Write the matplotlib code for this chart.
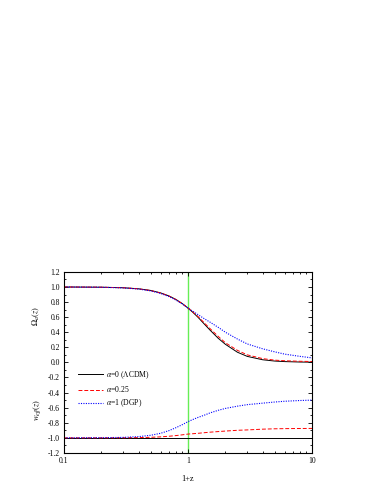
import numpy as np
import matplotlib
matplotlib.use("Agg")
import matplotlib.pyplot as plt
from matplotlib.ticker import MultipleLocator, FixedLocator, NullFormatter

plt.rcParams['font.family'] = ['Liberation Serif', 'DejaVu Serif']
plt.rcParams['mathtext.fontset'] = 'stix'
plt.rcParams['axes.unicode_minus'] = False

## Data
opz = [0.1, 0.2, 0.3, 0.4, 0.5, 0.6, 0.7, 0.8, 0.9, 1.0, 1.1, 1.2, 1.35, 1.5, 1.75, 2.0, 2.5, 3.0, 4.0, 5.0, 6.0, 8.0, 10.0]

omega_lcdm = [1.0, 0.997, 0.99, 0.976, 0.954, 0.922, 0.882, 0.834, 0.779, 0.72, 0.66, 0.60, 0.51, 0.43, 0.32, 0.24, 0.135, 0.08, 0.035, 0.018, 0.011, 0.005, 0.003]
omega_025 = [1.0, 0.997, 0.99, 0.975, 0.953, 0.92, 0.88, 0.832, 0.778, 0.72, 0.665, 0.61, 0.525, 0.45, 0.345, 0.26, 0.16, 0.10, 0.05, 0.03, 0.022, 0.015, 0.012]
omega_dgp = [1.0, 0.996, 0.988, 0.972, 0.948, 0.915, 0.874, 0.826, 0.774, 0.72, 0.675, 0.635, 0.58, 0.535, 0.465, 0.40, 0.31, 0.245, 0.18, 0.14, 0.11, 0.08, 0.06]

w_lcdm = [-1.0] * len(opz)
w_025 = [-1.0, -1.0, -0.999, -0.997, -0.993, -0.987, -0.979, -0.97, -0.96, -0.95, -0.945, -0.94, -0.932, -0.925, -0.917, -0.91, -0.90, -0.895, -0.885, -0.88, -0.878, -0.876, -0.875]
w_dgp = [-1.0, -0.998, -0.994, -0.984, -0.966, -0.94, -0.905, -0.865, -0.825, -0.785, -0.755, -0.73, -0.70, -0.67, -0.635, -0.61, -0.58, -0.56, -0.54, -0.525, -0.515, -0.505, -0.50]

labels = [r'$\alpha$=0 ($\Lambda$CDM)', r'$\alpha$=0.25', r'$\alpha$=1 (DGP)']

fig = plt.figure(figsize=(3.83, 4.95), dpi=100)
ax = fig.add_axes([0.167, 0.085, 0.648, 0.3657])

ax.axvline(1.0, color='#66ee55', lw=1.0, zorder=1)

# Omega_a(z)
ax.plot(opz, omega_lcdm, color='black', lw=0.7, ls='-', label=labels[0])
ax.plot(opz, omega_025, color='red', lw=0.7, ls=(0, (4, 2)), label=labels[1])
ax.plot(opz, omega_dgp, color='blue', lw=0.8, ls=(0, (1, 1.2)), label=labels[2])
# w_eff(z)
ax.plot(opz, w_lcdm, color='black', lw=0.7, ls='-')
ax.plot(opz, w_025, color='red', lw=0.7, ls=(0, (4, 2)))
ax.plot(opz, w_dgp, color='blue', lw=0.8, ls=(0, (1, 1.2)))

ax.set_xscale('log')
ax.set_xlim(0.1, 10)
ax.set_ylim(-1.2, 1.2)
ax.xaxis.set_major_locator(FixedLocator([0.1, 1, 10]))
ax.set_xticklabels(['0.1', '1', '10'])
ax.xaxis.set_minor_formatter(NullFormatter())
ax.yaxis.set_major_locator(MultipleLocator(0.2))
ax.yaxis.set_minor_locator(MultipleLocator(0.1))
ax.yaxis.set_major_formatter(matplotlib.ticker.FormatStrFormatter('%.1f'))

ax.tick_params(which='both', direction='in', top=True, right=True, labelsize=5.5, width=0.6, pad=3)
ax.tick_params(which='major', length=3)
ax.tick_params(which='minor', length=1.6)
for s in ax.spines.values():
    s.set_linewidth(0.8)

ax.set_xlabel('1+z', fontsize=6, labelpad=7)
trans = matplotlib.transforms.blended_transform_factory(ax.transAxes, ax.transData)
ax.text(-0.11, 0.62, r'$\Omega_a(z)$', transform=trans, rotation=90, fontsize=6, ha='center', va='center')
ax.text(-0.11, -0.63, r'$w_{eff}(z)$', transform=trans, rotation=90, fontsize=6, ha='center', va='center')

ax.legend(loc='upper left', bbox_to_anchor=(0.03, 0.50), frameon=False, fontsize=5.5,
          handlelength=3.2, handletextpad=0.4, labelspacing=0.45)

fig.savefig('out.png', dpi=100)
